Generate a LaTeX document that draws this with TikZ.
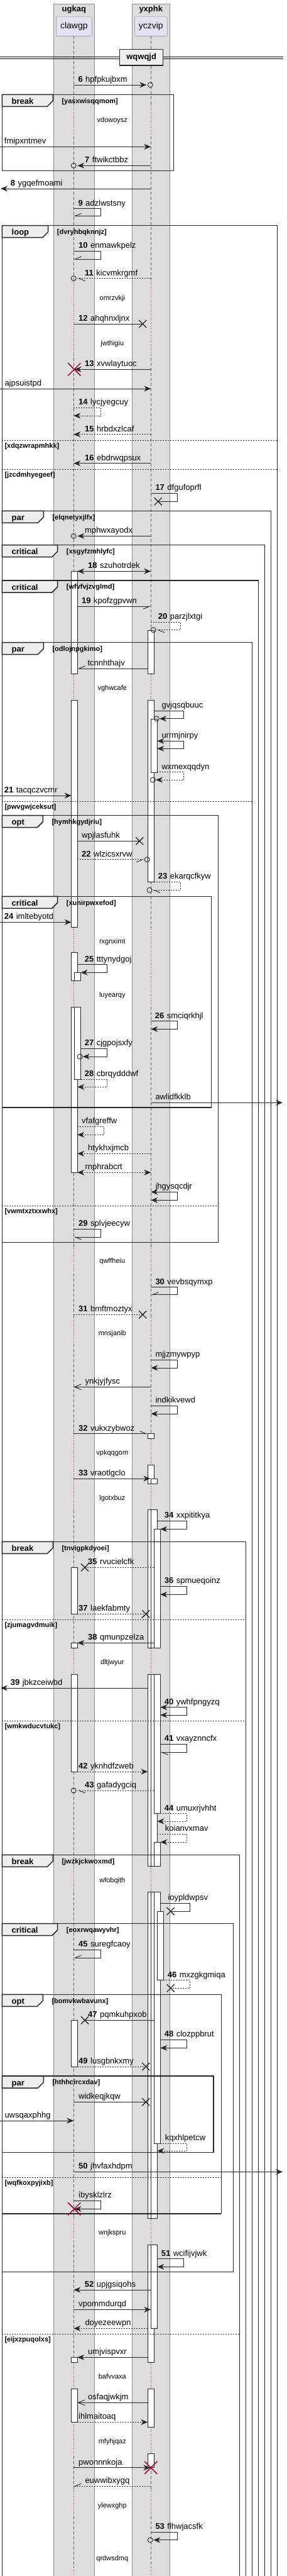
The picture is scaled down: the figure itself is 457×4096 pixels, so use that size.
\documentclass[tikz,border=0pt]{standalone}
\usepackage{fontspec}
\setmainfont{Liberation Sans}
\usetikzlibrary{arrows.meta}

\definecolor{boxgray}{HTML}{DDDDDD}
\definecolor{boxline}{HTML}{8C8C8C}
\definecolor{partfill}{HTML}{E2E2F0}
\definecolor{tabfill}{HTML}{EEEEEE}
\definecolor{umlred}{HTML}{A80036}

\tikzset{
  msg/.style={line width=0.9pt, draw=black!85},
  ret/.style={msg, dash pattern=on 2pt off 2pt},
  fullhead/.style={-{Stealth[length=11pt,width=9pt,inset=3.5pt]}},
  twohead/.style={{Stealth[length=11pt,width=9pt,inset=3.5pt]}-{Stealth[length=11pt,width=9pt,inset=3.5pt]}},
  openhead/.style={-{Straight Barb[length=11pt,width=9pt]}},
  barbl/.style={-{Straight Barb[harpoon,length=10pt,width=8pt]}},
  barbr/.style={-{Straight Barb[harpoon,swap,length=10pt,width=8pt]}},
  life/.style={draw=black!60, line width=0.8pt, dash pattern=on 5pt off 3pt},
  reddot/.style={draw=umlred, line width=0.8pt, dash pattern=on 1pt off 2.5pt},
  actbox/.style={fill=white, draw=black!85, line width=0.8pt},
  frm/.style={draw=black!85, line width=1.5pt},
  sepline/.style={draw=black!85, line width=0.8pt, dash pattern=on 2pt off 2pt},
  lbl/.style={anchor=base west, inner sep=0pt, font=\fontsize{13}{15}\selectfont},
  cond/.style={anchor=base west, inner sep=0pt, font=\bfseries\fontsize{11}{13}\selectfont},
  kw/.style={anchor=base west, inner sep=0pt, font=\bfseries\fontsize{13}{15}\selectfont},
  dly/.style={anchor=base, inner sep=0pt, font=\fontsize{11}{13}\selectfont},
  ttl/.style={inner sep=0pt, font=\bfseries\fontsize{13}{15}\selectfont},
  partbox/.style={draw=boxline, fill=partfill, rounded corners=2pt, minimum height=30.6pt, inner sep=0pt, font=\fontsize{14}{16}\selectfont},
  xmark/.style={draw=black!85, line width=1.3pt},
  killmark/.style={draw=umlred, line width=1.5pt},
}

\newcommand\seqnr[1]{\textbf{#1}\hspace{4.5pt}}
\newcommand\msglabel[4]{\node[lbl] (#1) at (#2,#3) {#4};}
\newcommand\lostx[2]{\draw[xmark] (#1-6,#2-6) -- (#1+6,#2+6) (#1-6,#2+6) -- (#1+6,#2-6);}
\newcommand\killx[2]{\draw[killmark] (#1-10,#2-10) -- (#1+10,#2+10) (#1-10,#2+10) -- (#1+10,#2-10);}
\newcommand\ringend[2]{\draw[draw=black!85, line width=0.9pt] (#1,#2) circle[radius=4pt];}
\newcommand\actbar[3]{\draw[actbox] (#1,#2) rectangle (#1+10,#3);}
\newcommand\delaygap[3]{\draw[draw=boxgray, line width=2.5pt] (#1,#2) -- (#1,#3); \draw[reddot] (#1,#2) -- (#1,#3);}
\newcommand\fragment[7]{%
  \draw[frm] (3.3,#4) -- (3.3,#2) -- (#3,#2) -- (#3,#4);
  \draw[frm,fill=tabfill] (3.3,#2) -- (#5,#2) -- (#5,#2+10) -- (#5-9,#2+19) -- (3.3,#2+19) -- cycle;
  \node[kw] (#1) at (18.5,#2+15) {#6};
  \node[cond] (#1c) at (#5+14,#2+13.7) {#7};
}
\newcommand\fragclose[2]{\draw[frm] (3.3,#1) -- (#2,#1);}
\newcommand\elsesep[4]{\draw[sepline] (3.3,#2) -- (#3,#2); \node[cond] (#1) at (7.3,#2+12) {#4};}
\newcommand\delaynote[3]{\node[dly] (#1) at (178.8,#2+4) {#3};}

\def\xa{117.3}
\def\xb{240.3}

\begin{document}
\begin{tikzpicture}[x=1pt,y=-1pt]
  \useasboundingbox (0,0) rectangle (457,4096);

  % Boxen und Teilnehmer
  \draw[boxline,fill=boxgray] (85.3,6) rectangle (150.3,4110);
  \draw[boxline,fill=boxgray] (210.3,6) rectangle (270.3,4110);
  \node[ttl] (ugkaq) at (117.8,15) {ugkaq};
  \node[ttl] (yxphk) at (240.3,15) {yxphk};
  \node[partbox, minimum width=57pt] (clawgp) at (117.8,42) {clawgp};
  \node[partbox, minimum width=52pt] (yczvip) at (240.3,42) {yczvip};

  % Lebenslinien
  \draw[life] (\xa,57.3) -- (\xa,4110);
  \draw[life] (\xb,57.3) -- (\xb,4110);
  \foreach \s/\e in {167/213, 448.7/563.7, 1071.7/1113.3, 1474.7/1514.7, 1559.7/1601.3,
      1981.7/2021.7, 2095/2138.7, 2279.7/2400, 2620.7/2662.3, 2967.7/3008.7,
      3526.7/3569, 3756.7/3798, 3851.3/3902, 3958.7/4002, 4082/4110}
    \delaygap{\xa}{\s}{\e};
  \foreach \s/\e in {167/213, 448.7/563.7, 1071.7/1113.3, 1474.7/1598, 1981.7/2021.7,
      2095/2138.7, 2287.7/2329, 2359.3/2400.7, 2620.7/2662.3, 2967.7/3008.7,
      3527.7/3569, 3756.7/3798, 3859.3/3901.3, 3958.7/4002, 4082/4110}
    \delaygap{\xb}{\s}{\e};

  % Aktivierungen
  \foreach \s/\e in {908.3/1071.7, 1113.3/1474.7, 1514.7/1559.7, 1601.3/1864.3, 2492.3/2566.3,
      2612.3/2620.7, 2662.3/2817, 3212.3/3286, 3748.3/3756.7, 3798/3851.3}
    \actbar{113.7}{\s}{\e};
  \foreach \s/\e in {1546.3/1559.7, 1601.3/1716}
    \actbar{118.5}{\s}{\e};
  \foreach \s/\e in {1002.3/1071.7, 1113.3/1402.3, 2279.7/2287.7, 2329/2359.3, 2400.7/2620.7,
      2662.3/2967.7, 3008.7/3527.7, 3569/3756.7, 3798/3859.3, 3901.3/3923.7}
    \actbar{235.3}{\s}{\e};
  \foreach \s/\e in {1143.3/1228, 2351/2359.3, 2400.7/2620.7, 2662.3/2967.7, 3008.7/3527.7, 3569/3702.3}
    \actbar{240.3}{\s}{\e};
  \foreach \s/\e in {2431.3/2620.7, 2662.3/2883.7, 2929/2967.7, 3008.7/3408}
    \actbar{245.3}{\s}{\e};
  \actbar{250.3}{3039}{3148.7};

  % Trenner
  \draw[line width=0.8pt] (0,90) -- (450.7,90) (0,93) -- (450.7,93);
  \node[frm, fill=tabfill, minimum width=69pt, minimum height=25.7pt, inner sep=0pt,
        font=\bfseries\fontsize{13}{15}\selectfont] (wqwqjd) at (225.2,91.2) {wqwqjd};

  % Gruppen
  \fragment{fbreak1}{150.3}{276.3}{271.7}{84.3}{break}{[yasxwisqqmom]}
  \fragclose{271.7}{276.3}
  \fragment{floop}{358.7}{441.7}{4110}{76.7}{loop}{[dvryhbqknnjz]}
  \elsesep{s1}{700}{441.7}{[xdqzwrapmhkk]}
  \elsesep{s2}{746}{441.7}{[jzcdmhyegeef]}
  \fragment{fpar1}{812.3}{431.7}{4110}{69.3}{par}{[elqnetyxjlfx]}
  \fragment{fcrit1}{866.7}{421.7}{4110}{91.7}{critical}{[xsgyfzmhlyfc]}
  \fragment{fcrit2}{923}{411.7}{4110}{91.7}{critical}{[wfvfvjzvglmd]}
  \fragment{fpar2}{1021.5}{401.7}{4110}{69.3}{par}{[odlojnpgkimo]}
  \elsesep{s3}{1274.3}{401.7}{[pwvgwjceksut]}
  \fragment{fopt1}{1296.7}{347.7}{1975.7}{68.3}{opt}{[hymhkgydjriu]}
  \fragclose{1975.7}{347.7}
  \fragment{fcrit3}{1425.3}{336.7}{1761}{91.7}{critical}{[xunirpwxefod]}
  \fragclose{1761}{336.7}
  \elsesep{s4}{1917.3}{347.7}{[vwmtxztxxwhx]}
  \fragment{fbreak2}{2451.3}{391.7}{4110}{84.3}{break}{[tnvigpkdyoei]}
  \elsesep{s5}{2575.7}{391.7}{[zjumagvdmuik]}
  \elsesep{s6}{2736}{391.7}{[wmkwducvtukc]}
  \fragment{fbreak3}{2949.3}{381.7}{4110}{84.3}{break}{[jwzkjckwoxmd]}
  \fragment{fcrit4}{3058.7}{371.7}{3612.3}{91.7}{critical}{[eoxrwqawyvhr]}
  \fragclose{3612.3}{371.7}
  \fragment{fopt2}{3171.3}{352.3}{3520}{68.3}{opt}{[bomvkwbavunx]}
  \fragclose{3520}{352.3}
  \fragment{fpar3}{3301}{340}{3422.7}{69.3}{par}{[hthhcircxdav]}
  \fragclose{3422.7}{340}
  \elsesep{s7}{3462.3}{352.3}{[wqfkoxpyjixb]}
  \elsesep{s8}{3711}{381.7}{[eijxzpuqolxs]}

  % Verzoegerungen
  \delaynote{d1}{190.3}{vdowoysz}
  \delaynote{d2}{473}{omrzvkji}
  \delaynote{d3}{545}{jwthigiu}
  \delaynote{d4}{1093}{vghwcafe}
  \delaynote{d5}{1496.3}{rxgnximt}
  \delaynote{d6}{1581.3}{luyearqy}
  \delaynote{d7}{2004}{qwffheiu}
  \delaynote{d8}{2119}{mnsjanib}
  \delaynote{d9}{2309}{vpkqqgom}
  \delaynote{d10}{2381}{lgotxbuz}
  \delaynote{d11}{2642.3}{dltjwyur}
  \delaynote{d12}{2989}{wfobqith}
  \delaynote{d13}{3549}{wnjkspru}
  \delaynote{d14}{3778}{bafvvaxa}
  \delaynote{d15}{3881}{mfyhjqaz}
  \delaynote{d16}{3983}{ylewxghp}
  \delaynote{d17}{4067.7}{qrdwsdmq}

  % Nachrichten
  \draw[msg,fullhead] (\xa,135) -- (233.3,135); \ringend{239.3}{135}
  \msglabel{m6}{124.3}{130.5}{\seqnr{6}hpfpkujbxm}
  \draw[msg,fullhead] (0,233.3) -- (\xb,233.3);
  \msglabel{m6a}{6.7}{228.8}{fmipxntmev}
  \draw[msg,fullhead] (\xb,263.3) -- (123.3,263.3); \ringend{117.3}{263.3}
  \msglabel{m7}{135}{258.8}{\seqnr{7}ftwikctbbz}
  \draw[msg,fullhead] (\xb,300) -- (1,300);
  \msglabel{m8}{16.7}{295.5}{\seqnr{8}ygqefmoami}
  \draw[msg,barbr] (\xa,331.7) -| (160.3,343.3) -- (\xa,343.3);
  \msglabel{m9}{124.3}{327.2}{\seqnr{9}adzlwstsny}

  \draw[msg,barbr] (\xa,399.3) -| (160.3,412) -- (\xa,412);
  \msglabel{m10}{125}{394.8}{\seqnr{10}enmawkpelz}
  \draw[ret,barbl] (\xb,442.7) -- (123.3,442.7); \ringend{117.3}{442.7}
  \msglabel{m11}{135}{438.2}{\seqnr{11}kicvmkrgmf}
  \draw[msg] (\xa,515) -- (227.3,515); \lostx{227.3}{515}
  \msglabel{m12}{125}{510.5}{\seqnr{12}ahqhnxljnx}
  \draw[msg,fullhead] (\xb,587.3) -- (118.5,587.3); \killx{118.3}{587.3}
  \msglabel{m13}{135}{582.8}{\seqnr{13}xvwlaytuoc}
  \draw[msg,fullhead] (0,618) -- (\xb,618);
  \msglabel{m13a}{7.3}{613.5}{ajpsuistpd}
  \draw[ret,fullhead] (\xa,648) -| (160.3,661) -- (\xa,661);
  \msglabel{m14}{125}{643.5}{\seqnr{14}lycjyegcuy}
  \draw[ret,fullhead] (\xb,690.7) -- (\xa,690.7);
  \msglabel{m15}{135}{686.2}{\seqnr{15}hrbdxzlcaf}
  \draw[msg,fullhead] (\xb,736.7) -- (\xa,736.7);
  \msglabel{m16}{135}{732.2}{\seqnr{16}ebdrwqpsux}
  \draw[msg] (\xb,784) -| (282.3,797.3) -- (251.7,797.3); \lostx{251.7}{797.3}
  \msglabel{m17}{247.3}{779.5}{\seqnr{17}dfgufoprfl}

  \draw[msg,fullhead] (\xb,852.3) -- (123.3,852.3); \ringend{117.3}{852.3}
  \msglabel{m17a}{135}{847.8}{mphwxayodx}
  \draw[msg,twohead] (123.3,908.3) -- (\xb,908.3);
  \msglabel{m18}{140}{903.8}{\seqnr{18}szuhotrdek}
  \draw[msg,barbr] (123.3,964.3) -- (\xb,964.3);
  \msglabel{m19}{130}{959.8}{\seqnr{19}kpofzgpvwn}
  \draw[ret,barbl] (\xb,989) -| (287.3,1001.7) -- (249.5,1001.7); \ringend{244.3}{1001.7}
  \msglabel{m20}{251.7}{984.5}{\seqnr{20}parzjlxtgi}

  \draw[msg,barbr] (235.3,1063) -- (123.3,1063);
  \msglabel{m20a}{139.3}{1058.5}{tcnnhthajv}
  \draw[msg,fullhead] (245.3,1130.3) -| (292.3,1142.7) -- (254,1142.7); \ringend{249.3}{1142.7}
  \msglabel{m20b}{257.3}{1125.8}{gvjqsqbuuc}
  \draw[msg,twohead] (250.3,1178.3) -| (292.3,1190.3) -- (250.3,1190.3);
  \msglabel{m20c}{257.3}{1173.8}{urrmjnirpy}
  \draw[ret,fullhead] (250.3,1227.7) -| (292.3,1240) -- (248,1240); \ringend{243.3}{1240}
  \msglabel{m20d}{257.3}{1223.2}{wxmexqqdyn}
  \draw[msg,fullhead] (0,1265) -- (113.7,1265);
  \msglabel{m21}{6.7}{1260.5}{\seqnr{21}tacqczvcmr}

  \draw[msg] (123.3,1337.3) -- (222.3,1337.3); \lostx{222.3}{1337.3}
  \msglabel{m21a}{130}{1332.8}{wpjlasfuhk}
  \draw[ret,barbr] (123.3,1366.7) -- (229.5,1366.7); \ringend{234.3}{1366.7}
  \msglabel{m22}{130}{1362.2}{\seqnr{22}wlzicsxrvw}
  \draw[ret,barbl] (245.3,1402.3) -| (287.3,1415.3) -- (242.5,1415.3); \ringend{238}{1415.3}
  \msglabel{m23}{251.7}{1397.8}{\seqnr{23}ekarqcfkyw}

  \draw[msg,fullhead] (0,1466.3) -- (113.7,1466.3);
  \msglabel{m24}{6.7}{1461.8}{\seqnr{24}imltebyotd}
  \draw[msg,fullhead] (123.5,1533.7) -| (170.7,1546.3) -- (128.5,1546.3);
  \msglabel{m25}{134.7}{1529.2}{\seqnr{25}tttynydgoj}
  \draw[msg,fullhead] (\xb,1623.7) -| (282.3,1636.3) -- (\xb,1636.3);
  \msglabel{m26}{246.7}{1619.2}{\seqnr{26}smciqrkhjl}
  \draw[msg,fullhead] (128.5,1667.3) -| (170.7,1680) -- (131.8,1680); \ringend{127.3}{1680}
  \msglabel{m27}{134.7}{1662.8}{\seqnr{27}cjgpojsxfy}
  \draw[ret,fullhead] (128.5,1716) -| (170.7,1728.3) -- (123.3,1728.3);
  \msglabel{m28}{134.7}{1711.5}{\seqnr{28}cbrqydddwf}
  \draw[msg,fullhead] (\xb,1753.3) -- (450,1753.3);
  \msglabel{m28a}{247.3}{1748.8}{awlidfkklb}

  \draw[ret,fullhead] (123.3,1791.3) -| (165.7,1804.3) -- (123.3,1804.3);
  \msglabel{m28b}{130}{1786.8}{vfafgreffw}
  \draw[ret,fullhead] (\xb,1834.3) -- (123.3,1834.3);
  \msglabel{m28c}{140}{1829.8}{htykhxjmcb}
  \draw[ret,twohead] (123.3,1864.3) -- (\xb,1864.3);
  \msglabel{m28d}{135.3}{1859.8}{rnphrabcrt}
  \draw[msg,twohead] (\xb,1895.3) -| (282.3,1908.3) -- (\xb,1908.3);
  \msglabel{m28e}{247.3}{1890.8}{jhgysqcdjr}
  \draw[msg,barbl] (\xa,1954.3) -| (160.3,1967) -- (\xa,1967);
  \msglabel{m29}{125}{1949.8}{\seqnr{29}splvjeecyw}

  \draw[msg,barbr] (\xb,2046.7) -| (282.3,2058.7) -- (\xb,2058.7);
  \msglabel{m30}{247.3}{2042.2}{\seqnr{30}vevbsqymxp}
  \draw[ret] (\xa,2090.3) -- (227.3,2090.3); \lostx{227.3}{2090.3}
  \msglabel{m31}{125}{2085.8}{\seqnr{31}bmftmoztyx}
  \draw[msg,fullhead] (\xb,2162.3) -| (282.3,2175) -- (\xb,2175);
  \msglabel{m31a}{247.3}{2157.8}{mjjzmywpyp}
  \draw[msg,openhead] (\xb,2205.3) -- (\xa,2205.3);
  \msglabel{m31b}{135.3}{2200.8}{ynkjyjfysc}
  \draw[msg,fullhead] (\xb,2235.3) -| (282.3,2248) -- (\xb,2248);
  \msglabel{m31c}{247.3}{2230.8}{indkikvewd}
  \draw[msg,barbl] (\xa,2279.7) -- (235.3,2279.7);
  \msglabel{m32}{125}{2275.2}{\seqnr{32}vukxzybwoz}
  \draw[msg,fullhead] (\xa,2351) -- (239.3,2351);
  \msglabel{m33}{125}{2346.5}{\seqnr{33}vraotlgclo}
  \draw[msg,fullhead] (250.3,2418.3) -| (297.3,2431.3) -- (255.3,2431.3);
  \msglabel{m34}{261.7}{2413.8}{\seqnr{34}xxpititkya}

  \draw[ret] (245.3,2492.3) -- (135,2492.3); \lostx{135}{2492.3}
  \msglabel{m35}{140}{2487.8}{\seqnr{35}rvucielcfk}
  \draw[msg,fullhead] (255.3,2522.3) -| (297.3,2535.3) -- (255.3,2535.3);
  \msglabel{m36}{261.7}{2517.8}{\seqnr{36}spmueqoinz}
  \draw[ret] (123.3,2566.3) -- (232.3,2566.3); \lostx{232.3}{2566.3}
  \msglabel{m37}{125}{2561.8}{\seqnr{37}laekfabmty}
  \draw[msg,fullhead] (245.3,2612.3) -- (123.3,2612.3);
  \msglabel{m38}{140}{2607.8}{\seqnr{38}qmunpzelza}
  \draw[msg,fullhead] (235.3,2684) -- (1,2684);
  \msglabel{m39}{16.7}{2679.5}{\seqnr{39}jbkzceiwbd}
  \draw[msg,twohead] (255.3,2714.7) -| (297.3,2727) -- (255.3,2727);
  \msglabel{m40}{261.7}{2710.2}{\seqnr{40}ywhfpngyzq}
  \draw[msg,barbl] (255.3,2773.3) -| (297.3,2786.3) -- (255.3,2786.3);
  \msglabel{m41}{261.7}{2768.8}{\seqnr{41}vxayznncfx}
  \draw[ret,fullhead] (123.3,2817) -- (235.3,2817);
  \msglabel{m42}{125}{2812.5}{\seqnr{42}yknhdfzweb}
  \draw[ret,barbl] (245.3,2847) -- (123.3,2847); \ringend{117.3}{2847}
  \msglabel{m43}{135}{2842.5}{\seqnr{43}gafadygciq}
  \draw[ret,fullhead] (255.3,2883.7) -| (297.3,2896) -- (250.3,2896);
  \msglabel{m44}{261.7}{2879.2}{\seqnr{44}umuxrjvhht}
  \draw[ret,fullhead] (250.3,2916.3) -| (297.3,2929) -- (255.3,2929);
  \msglabel{m44a}{262.7}{2911.8}{koianvxmav}

  \draw[msg] (255.3,3026.3) -| (302.3,3039) -- (271.7,3039); \lostx{271.7}{3039}
  \msglabel{m44b}{267.3}{3021.8}{ioypldwpsv}
  \draw[msg,barbr] (\xa,3100.3) -| (160.3,3113) -- (\xa,3113);
  \msglabel{m45}{125}{3095.8}{\seqnr{45}suregfcaoy}
  \draw[ret] (260.3,3148.7) -| (302.3,3161.3) -- (271.7,3161.3); \lostx{271.7}{3161.3}
  \msglabel{m46}{266.7}{3144.2}{\seqnr{46}mxzgkgmiqa}
  \draw[msg] (245.3,3212.3) -- (135,3212.3); \lostx{135}{3212.3}
  \msglabel{m47}{140}{3207.8}{\seqnr{47}pqmkuhpxob}
  \draw[msg,fullhead] (255.3,3243.3) -| (297.3,3256.3) -- (255.3,3256.3);
  \msglabel{m48}{261.7}{3238.8}{\seqnr{48}clozppbrut}
  \draw[ret] (123.3,3286) -- (232.3,3286); \lostx{232.3}{3286}
  \msglabel{m49}{125}{3281.5}{\seqnr{49}lusgbnkxmy}
  \draw[msg] (\xa,3342.3) -- (232.3,3342.3); \lostx{232.3}{3342.3}
  \msglabel{m49a}{125}{3337.8}{widkeqjkqw}
  \draw[msg,fullhead] (0,3372) -- (\xa,3372);
  \msglabel{m49b}{7.3}{3367.5}{uwsqaxphhg}
  \draw[ret,fullhead] (255.3,3408) -| (297.3,3420) -- (250.3,3420);
  \msglabel{m49c}{262.7}{3403.5}{kqxhlpetcw}
  \draw[msg,fullhead] (\xa,3453.3) -- (450,3453.3);
  \msglabel{m50}{125}{3448.8}{\seqnr{50}jhvfaxhdpm}
  \draw[msg,fullhead] (\xa,3499.3) -| (160.3,3512.3) -- (118.5,3512.3); \killx{118.3}{3512.3}
  \msglabel{m50a}{125}{3494.8}{ibysklzlrz}

  \draw[msg,fullhead] (250.3,3591.7) -| (292.3,3604.3) -- (250.3,3604.3);
  \msglabel{m51}{256.7}{3587.2}{\seqnr{51}wcifijvjwk}
  \draw[msg,fullhead] (\xb,3641) -- (\xa,3641);
  \msglabel{m52}{134.7}{3636.5}{\seqnr{52}upjgsiqohs}
  \draw[msg,fullhead] (\xa,3672.3) -- (\xb,3672.3);
  \msglabel{m52a}{125}{3667.8}{vpommdurqd}
  \draw[ret,fullhead] (235.3,3702.3) -- (\xa,3702.3);
  \msglabel{m52b}{135.3}{3697.8}{doyezeewpn}
  \draw[msg,fullhead] (235.3,3748.3) -- (123.3,3748.3);
  \msglabel{m52c}{140}{3743.8}{umjvispvxr}
  \draw[msg,openhead] (235.3,3820.3) -- (123.3,3820.3);
  \msglabel{m52d}{140}{3815.8}{osfaqjwkjm}
  \draw[ret,fullhead] (123.3,3851.3) -- (235.3,3851.3);
  \msglabel{m52e}{125}{3846.8}{ihlmaitoaq}
  \draw[msg,fullhead] (\xa,3923.7) -- (239.3,3923.7); \killx{240.3}{3923.7}
  \msglabel{m52f}{125}{3919.2}{pwonnnkoja}
  \draw[ret,barbr] (\xb,3953) -- (\xa,3953);
  \msglabel{m52g}{135.3}{3948.5}{euwwibxygq}
  \draw[msg,fullhead] (\xb,4026.3) -| (282.3,4038.7) -- (244.3,4038.7); \ringend{239.3}{4038.7}
  \msglabel{m53}{247.3}{4021.8}{\seqnr{53}flhwjacsfk}
\end{tikzpicture}
\end{document}
